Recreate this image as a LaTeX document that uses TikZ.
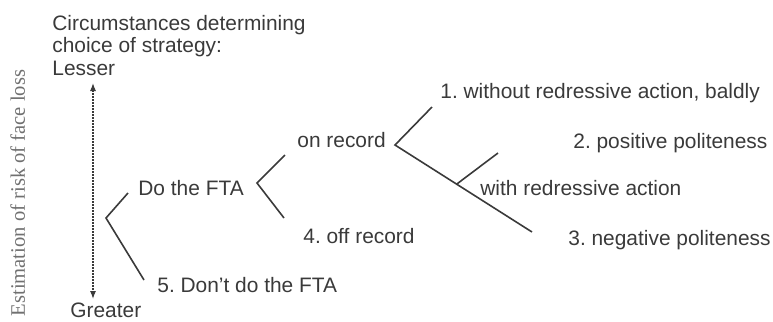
\documentclass[tikz,border=0pt]{standalone}
\usepackage{fontspec}
\setmainfont{Liberation Sans}
\newfontfamily\axisfont{Liberation Serif}
\usetikzlibrary{arrows.meta,calc}
\definecolor{ink}{HTML}{3A3A3A}
\definecolor{faint}{HTML}{707070}
\frenchspacing

\begin{document}
\begin{tikzpicture}[x=0.5pt,y=-0.5pt,
    lbl/.style={anchor=base west,inner sep=0pt,text=ink,font=\fontsize{10.45}{11.25}\selectfont},
    branch/.style={draw=ink,line width=0.8pt}]
    \useasboundingbox (0,0) rectangle (773,322);
    \node[lbl,align=left] at (52,52.5) (head) {Circumstances determining\\choice of strategy:};
    \node[lbl] at (52,75) (lesser) {Lesser};
    \node[lbl] at (70,317) (greater) {Greater};
    \node[anchor=base,rotate=90,inner sep=0pt,text=faint,font=\axisfont\fontsize{10.3}{12}\selectfont] at (25,193) (risk) {Estimation of risk of face loss};
    \coordinate (top) at (93,83);
    \coordinate (bottom) at (93,299);
    \draw[ink,line width=0.55pt,dash pattern=on 1pt off 0.5pt,{Latex[length=4pt,width=3pt]}-{Latex[length=4pt,width=3pt]}] (top) -- (bottom);
    \node[lbl] at (138,195) (fta) {Do the FTA};
    \node[lbl] at (157,292) (dont) {5. Don't do the FTA};
    \node[lbl] at (297,147) (onrec) {on record};
    \node[lbl] at (303,243) (offrec) {4. off record};
    \node[lbl] at (440,98) (bald) {1. without redressive action, baldly};
    \node[lbl] at (573,148) (pos) {2. positive politeness};
    \node[lbl] at (480,195) (redress) {with redressive action};
    \node[lbl] at (568,245) (neg) {3. negative politeness};
    \coordinate (rootfork) at (106,218);
    \coordinate (rootup) at (128,193);
    \coordinate (rootdown) at (144,280);
    \coordinate (ftafork) at (257,183);
    \coordinate (ftaup) at (285,155);
    \coordinate (ftadown) at (284,218);
    \coordinate (onfork) at (395,145);
    \coordinate (onup) at (432,107);
    \coordinate (ondown) at (532,232);
    \coordinate (withfork) at ($(onfork)!0.45!(ondown)$);
    \coordinate (withup) at (498,153);
    \draw[branch] (rootup) -- (rootfork) -- (rootdown);
    \draw[branch] (ftaup) -- (ftafork) -- (ftadown);
    \draw[branch] (onup) -- (onfork) -- (ondown);
    \draw[branch] (withfork) -- (withup);
\end{tikzpicture}
\end{document}
